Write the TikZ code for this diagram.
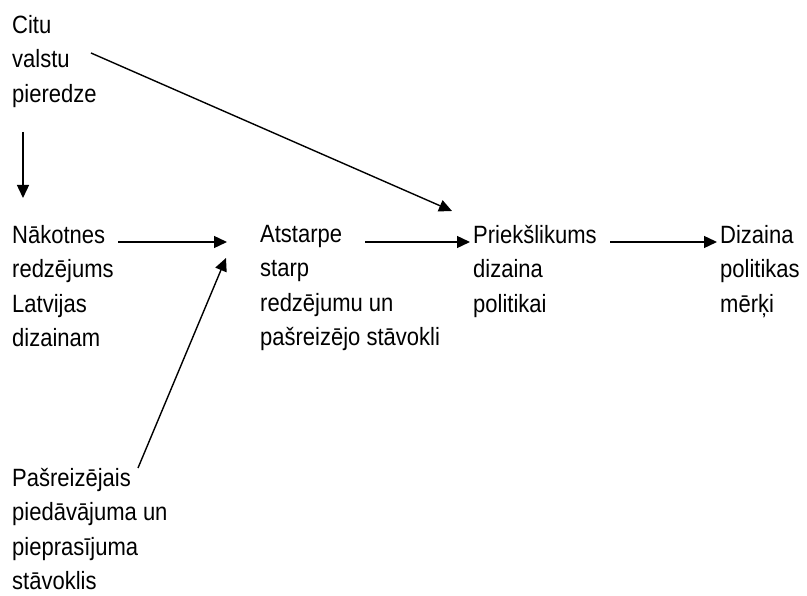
\documentclass[tikz,border=0pt]{standalone}
\usepackage{fontspec}
\setmainfont{Liberation Sans}[FakeStretch=0.88]
\usetikzlibrary{arrows.meta}
\tikzset{
  lbl/.style={anchor=north west, inner sep=0pt, align=left,
    font=\fontsize{25}{34.5}\selectfont},
  conn/.style={line width=1.4pt, -{Triangle[length=13pt,width=12pt]}}
}
\begin{document}
\begin{tikzpicture}[x=1pt,y=-1pt]
\useasboundingbox (0,0) rectangle (807,596);
\node[lbl] (citu) at (12,15) {Citu\\valstu\\pieredze};
\node[lbl] (nak) at (12,225) {Nākotnes\\redzējums\\Latvijas\\dizainam};
\node[lbl] (atst) at (260,225) {Atstarpe\\starp\\redzējumu un\\pašreizējo stāvokli};
\node[lbl] (prie) at (473,225) {Priekšlikums\\dizaina\\politikai};
\node[lbl] (diz) at (720,225) {Dizaina\\politikas\\mērķi};
\node[lbl] (pas) at (12,468) {Pašreizējais\\piedāvājuma un\\pieprasījuma\\stāvoklis};
\coordinate (c1) at (91,53);
\coordinate (c2) at (452,211);
\coordinate (d1) at (23,132);
\coordinate (d2) at (23,198);
\coordinate (n1) at (118,242);
\coordinate (n2) at (227,242);
\coordinate (a1) at (365,242);
\coordinate (a2) at (470,242);
\coordinate (p1) at (610,242);
\coordinate (p2) at (717,242);
\coordinate (s1) at (138,468);
\coordinate (s2) at (226,258);
\draw[conn] (c1) -- (c2);
\draw[conn] (d1) -- (d2);
\draw[conn] (n1) -- (n2);
\draw[conn] (a1) -- (a2);
\draw[conn] (p1) -- (p2);
\draw[conn] (s1) -- (s2);
\end{tikzpicture}
\end{document}
